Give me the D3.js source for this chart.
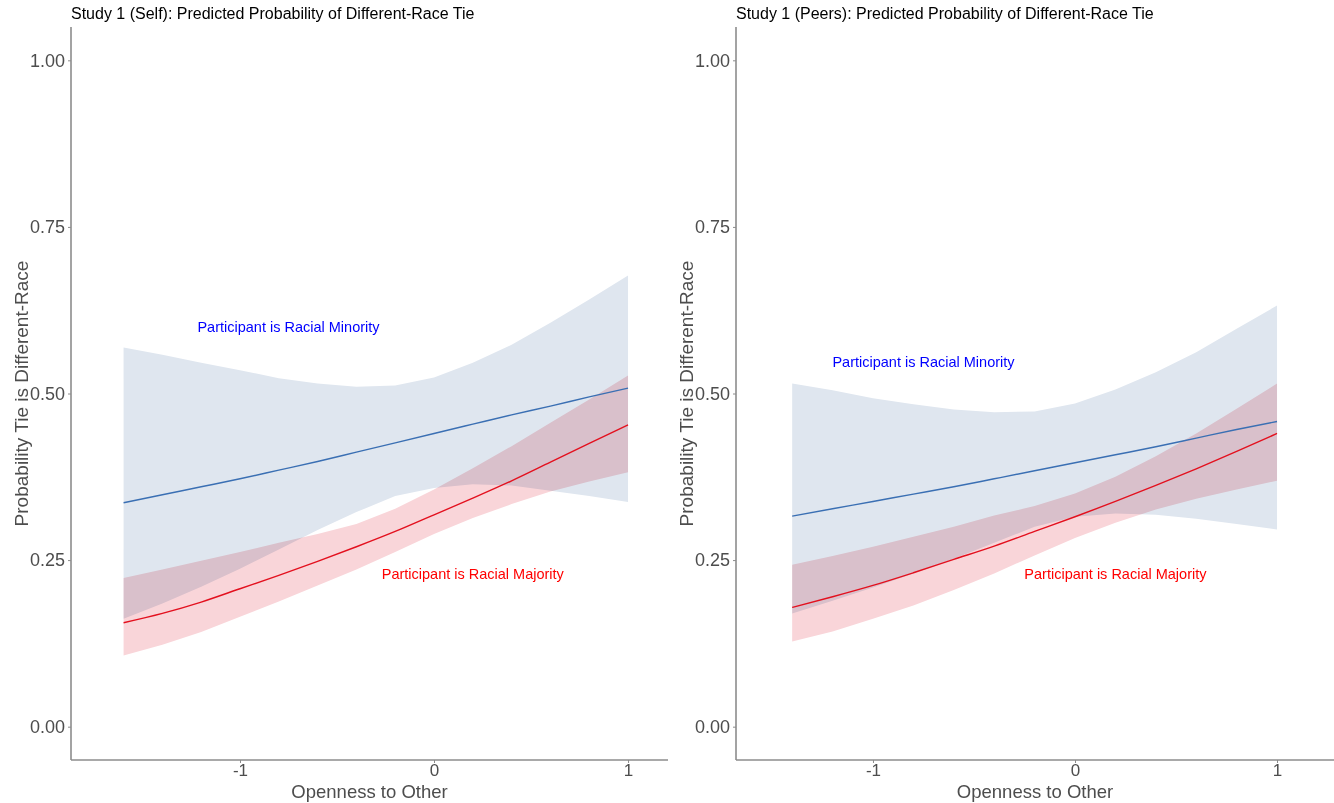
<!DOCTYPE html>
<html>
<head>
<meta charset="utf-8">
<script src="https://cdn.jsdelivr.net/npm/d3@7"></script>
<style>
	body { margin: 0; background: #fff; }
	svg { display: block; font-family: "Liberation Sans", Arial, sans-serif; }
	.ribbon { mix-blend-mode: multiply; }
</style>
</head>
<body>
<div id="chart"></div>
<script>
/* global d3 */

// Study 1 (Self)
var selfX = [-1.6, -1.4, -1.2, -1.0, -0.8, -0.6, -0.4, -0.2, 0.0, 0.2, 0.4, 0.6, 0.8, 1.0];
var selfMinorityFit   = [0.336, 0.348, 0.360, 0.372, 0.385, 0.398, 0.412, 0.426, 0.440, 0.454, 0.468, 0.481, 0.495, 0.508];
var selfMinorityLower = [0.162, 0.185, 0.210, 0.237, 0.266, 0.295, 0.322, 0.346, 0.358, 0.364, 0.362, 0.354, 0.346, 0.337];
var selfMinorityUpper = [0.569, 0.558, 0.546, 0.535, 0.523, 0.515, 0.510, 0.512, 0.524, 0.546, 0.573, 0.606, 0.641, 0.677];
var selfMajorityFit   = [0.156, 0.170, 0.187, 0.207, 0.227, 0.248, 0.270, 0.293, 0.318, 0.343, 0.369, 0.397, 0.425, 0.453];
var selfMajorityLower = [0.107, 0.123, 0.142, 0.165, 0.188, 0.212, 0.236, 0.262, 0.289, 0.313, 0.334, 0.353, 0.368, 0.382];
var selfMajorityUpper = [0.223, 0.236, 0.249, 0.262, 0.276, 0.289, 0.304, 0.327, 0.356, 0.388, 0.421, 0.456, 0.491, 0.527];

// Study 1 (Peers)
var peersX = [-1.4, -1.2, -1.0, -0.8, -0.6, -0.4, -0.2, 0.0, 0.2, 0.4, 0.6, 0.8, 1.0];
var peersMinorityFit   = [0.316, 0.327, 0.338, 0.349, 0.360, 0.372, 0.384, 0.396, 0.408, 0.420, 0.433, 0.446, 0.458];
var peersMinorityLower = [0.170, 0.189, 0.209, 0.230, 0.252, 0.276, 0.300, 0.315, 0.320, 0.318, 0.312, 0.304, 0.296];
var peersMinorityUpper = [0.515, 0.505, 0.493, 0.484, 0.476, 0.472, 0.473, 0.485, 0.506, 0.532, 0.562, 0.597, 0.632];
var peersMajorityFit   = [0.179, 0.195, 0.212, 0.231, 0.251, 0.271, 0.293, 0.315, 0.338, 0.362, 0.387, 0.413, 0.440];
var peersMajorityLower = [0.128, 0.143, 0.162, 0.182, 0.205, 0.230, 0.257, 0.283, 0.306, 0.326, 0.342, 0.356, 0.369];
var peersMajorityUpper = [0.243, 0.256, 0.270, 0.285, 0.300, 0.317, 0.331, 0.350, 0.375, 0.406, 0.440, 0.477, 0.515];

var titles = ['Study 1 (Self): Predicted Probability of Different-Race Tie', 'Study 1 (Peers): Predicted Probability of Different-Race Tie'];
var xTicks = [-1, 0, 1];
var yTicks = [0, 0.25, 0.5, 0.75, 1];
var labelMinority = 'Participant is Racial Minority';
var labelMajority = 'Participant is Racial Majority';
// label anchors in data units: [x, y]
var selfLabels  = { minority: [-0.75, 0.60], majority: [0.20, 0.229] };
var peersLabels = { minority: [-0.75, 0.548], majority: [0.20, 0.229] };

var buildPanels = function (el) {
	'use strict';

	var W = 1334, H = 803;

	var svg = d3.select(el).append('svg')
		.attr('width', W)
		.attr('height', H);

	function zip (xs, fit, lo, hi) {
		return xs.map(function (x, i) { return { x: x, fit: fit[i], lo: lo[i], hi: hi[i] }; });
	}

	function Panel (cfg) {
		this.cfg = cfg;
		this.x = d3.scaleLinear().domain(cfg.xDomain).range([cfg.left, cfg.right]);
		this.y = d3.scaleLinear().domain([-0.05, 1.05]).range([760, 27]);
		this.g = svg.append('g');
		this.drawRibbons();
		this.drawLines();
		this.drawAxes();
		this.drawText();
	}

	Panel.prototype = {
		drawRibbons: function () {
			var that = this;
			var area = d3.area()
				.x(function (d) { return that.x(d.x); })
				.y0(function (d) { return that.y(d.lo); })
				.y1(function (d) { return that.y(d.hi); });
			this.g.append('path')
				.attr('class', 'ribbon')
				.attr('d', area(this.cfg.minority))
				.attr('fill', '#dfe6ef');
			this.g.append('path')
				.attr('class', 'ribbon')
				.attr('d', area(this.cfg.majority))
				.attr('fill', '#f9d5d9');
		},

		drawLines: function () {
			var that = this;
			var line = d3.line()
				.curve(d3.curveMonotoneX)
				.x(function (d) { return that.x(d.x); })
				.y(function (d) { return that.y(d.fit); });
			this.g.append('path')
				.attr('d', line(this.cfg.minority))
				.attr('fill', 'none')
				.attr('stroke', '#3a6fb3')
				.attr('stroke-width', 1.4);
			this.g.append('path')
				.attr('d', line(this.cfg.majority))
				.attr('fill', 'none')
				.attr('stroke', '#e3101e')
				.attr('stroke-width', 1.4);
		},

		drawAxes: function () {
			var ax = this.g.append('g')
				.attr('transform', 'translate(0,760)')
				.call(d3.axisBottom(this.x).tickValues(xTicks).tickSize(3).tickPadding(1)
					.tickFormat(function (d) { return String(d); }));
			var ay = this.g.append('g')
				.attr('transform', 'translate(' + this.cfg.left + ',0)')
				.call(d3.axisLeft(this.y).tickValues(yTicks).tickSize(3).tickPadding(3).tickFormat(d3.format('.2f')));

			[ax, ay].forEach(function (a) {
				a.select('.domain').attr('stroke', '#8c8c8c').attr('stroke-width', 1.6);
				a.selectAll('.tick line').attr('stroke', '#8c8c8c');
				a.selectAll('.tick text')
					.attr('fill', '#4d4d4d')
					.style('font-size', '18px')
					.style('font-family', '"Liberation Sans", Arial, sans-serif');
			});
			ax.selectAll('.tick text').style('font-size', '17px');
			// keep the domain paths flat, without outer ticks
			ax.select('.domain').attr('d', 'M' + this.cfg.left + ',0H' + this.cfg.right);
			ay.select('.domain').attr('d', 'M0,' + 760 + 'V27');
		},

		drawText: function () {
			var cfg = this.cfg;
			this.g.append('text')
				.attr('x', cfg.left)
				.attr('y', 19)
				.attr('fill', '#000')
				.style('font-size', '16px')
				.text(cfg.title);

			this.g.append('text')
				.attr('x', (cfg.left + cfg.right) / 2)
				.attr('y', 798)
				.attr('text-anchor', 'middle')
				.attr('fill', '#4d4d4d')
				.style('font-size', '18.5px')
				.text('Openness to Other');

			this.g.append('text')
				.attr('transform', 'translate(' + (cfg.left - 43) + ',' + this.y(0.5) + ') rotate(-90)')
				.attr('text-anchor', 'middle')
				.attr('fill', '#4d4d4d')
				.style('font-size', '19px')
				.text('Probability Tie is Different-Race');

			this.g.append('text')
				.attr('x', this.x(cfg.labels.minority[0]))
				.attr('y', this.y(cfg.labels.minority[1]))
				.attr('dy', '0.35em')
				.attr('text-anchor', 'middle')
				.attr('fill', '#0000ff')
				.style('font-size', '14.5px')
				.text(labelMinority);

			this.g.append('text')
				.attr('x', this.x(cfg.labels.majority[0]))
				.attr('y', this.y(cfg.labels.majority[1]))
				.attr('dy', '0.35em')
				.attr('text-anchor', 'middle')
				.attr('fill', '#ff0000')
				.style('font-size', '14.5px')
				.text(labelMajority);
		}
	};

	new Panel({
		left: 71, right: 668, xDomain: [-1.871, 1.206],
		title: titles[0],
		minority: zip(selfX, selfMinorityFit, selfMinorityLower, selfMinorityUpper),
		majority: zip(selfX, selfMajorityFit, selfMajorityLower, selfMajorityUpper),
		labels: selfLabels
	});

	new Panel({
		left: 736, right: 1334, xDomain: [-1.678, 1.282],
		title: titles[1],
		minority: zip(peersX, peersMinorityFit, peersMinorityLower, peersMinorityUpper),
		majority: zip(peersX, peersMajorityFit, peersMajorityLower, peersMajorityUpper),
		labels: peersLabels
	});
};

buildPanels('#chart');
</script>
</body>
</html>
